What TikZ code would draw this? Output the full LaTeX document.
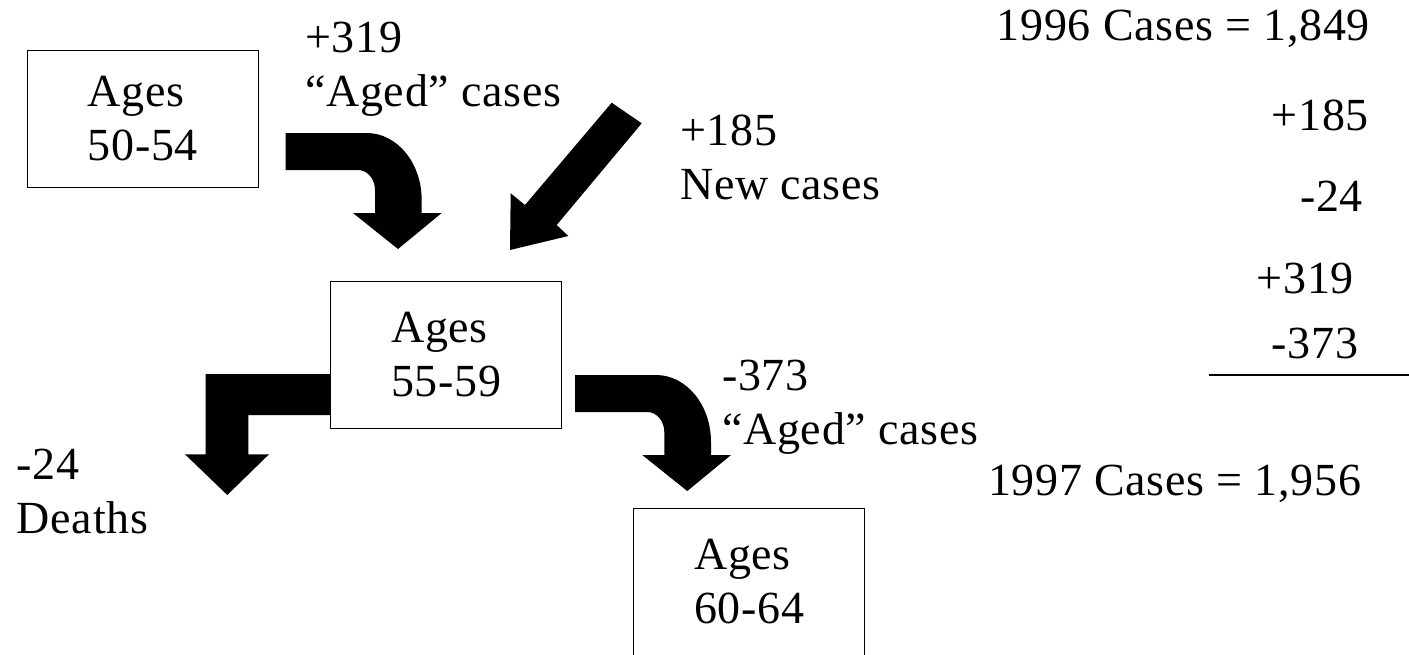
\documentclass[tikz,border=0pt]{standalone}
\usepackage{fontspec}
\setmainfont{Liberation Serif}[LetterSpace=1.5]
\newcommand\twol[2]{\begin{tabular}[t]{@{}l@{}}#1\\#2\end{tabular}}
\tikzset{
  bendarrow/.pic={
    \fill[black] (0,0) -- (81,0) .. controls (111.4,0) and (136,30) .. (136,67)
      -- (136,80) -- (156,80) -- (112.3,116) -- (67.3,80) -- (89.3,80) -- (89.3,57)
      .. controls (89.3,46) and (81.7,37) .. (72.3,37) -- (0,37) -- cycle;
  }
}
\begin{document}
\begin{tikzpicture}[x=1pt,y=-1pt,
  every node/.style={font=\fontsize{46}{54}\selectfont, inner sep=0pt},
  box/.style={draw, line width=1.2pt, align=left, minimum width=231pt},
  lbl/.style={anchor=base west}]
\useasboundingbox (0,0) rectangle (1409,654);
% boxes
\node[box, minimum height=137pt] (b1) at (142.8,118.7) {Ages\\50-54};
\node[box, minimum height=146.6pt] (b2) at (446.2,355) {Ages\\55-59};
\node[box, minimum height=147pt] (b3) at (749.2,581.8) {Ages\\60-64};
% block arrows
\pic at (285.7,133) {bendarrow};
\pic at (575,375) {bendarrow};
\fill[black] (611.7,102.7) -- (525,205) -- (510.7,193.3) -- (510,250) -- (568.3,236)
  -- (556.7,225) -- (641.7,123.3) -- cycle;
\fill[black] (b2.west |- 0,374) -- (205.7,374) -- (205.7,454.3) -- (185,454.3) -- (227.3,495)
  -- (269,454.3) -- (248.3,454.3) -- (248.3,415) -- (b2.west |- 0,415) -- cycle;
% labels
\node[lbl] (l319) at (305,52) {\twol{+319}{“Aged” cases}};
\node[lbl] (l185) at (680,145) {\twol{+185}{New cases}};
\node[lbl] (l373) at (722,390) {\twol{-373}{“Aged” cases}};
\node[lbl] (l24) at (16.7,479.3) {\twol{-24}{Deaths}};
% tally
\node[lbl] (t96) at (996.7,40) {1996 Cases = 1,849};
\node[lbl] (t1) at (1271.7,130) {+185};
\node[lbl] (t2) at (1300,211.7) {-24};
\node[lbl] (t3) at (1256.7,293.3) {+319};
\node[lbl] (t4) at (1271.7,358.3) {-373};
\coordinate (ls) at (1209.3,375);
\coordinate (le) at (1409,375);
\draw[line width=1.5pt] (ls) -- (le);
\node[lbl] (t97) at (988,495) {1997 Cases = 1,956};
\end{tikzpicture}
\end{document}
